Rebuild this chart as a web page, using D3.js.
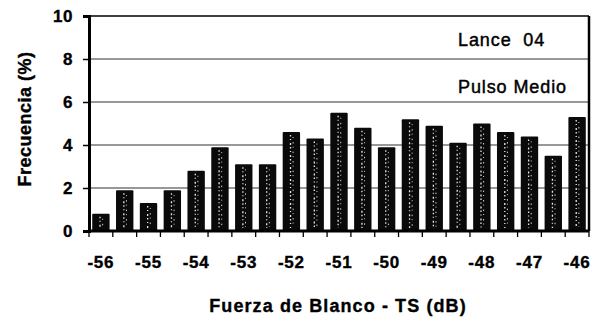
<!DOCTYPE html>
<html>
<head>
<meta charset="utf-8">
<script src="https://cdn.jsdelivr.net/npm/d3@7"></script>
<style>
  html, body { margin: 0; padding: 0; background: #fff; }
  svg { display: block; font-family: "Liberation Sans", Arial, sans-serif; }
</style>
</head>
<body>
<svg id="chart" width="597" height="322"></svg>
<script>
// Target strength classes (dB), half-dB steps
const tsClasses = [-56, -55.5, -55, -54.5, -54, -53.5, -53, -52.5, -52, -51.5, -51,
                   -50.5, -50, -49.5, -49, -48.5, -48, -47.5, -47, -46.5, -46];
// Frequency (%) per class
const frequency = [0.8, 1.9, 1.3, 1.9, 2.8, 3.9, 3.1, 3.1, 4.6, 4.3, 5.5,
                   4.8, 3.9, 5.2, 4.9, 4.1, 5.0, 4.6, 4.4, 3.5, 5.3];
const yTicks = [0, 2, 4, 6, 8, 10];
const xTickLabels = [-56, -55, -54, -53, -52, -51, -50, -49, -48, -47, -46];
const annotations = ["Lance  04", "Pulso Medio"];

const svg = d3.select("#chart");
const m = { left: 89, right: 589, top: 16, bottom: 231 };

const x = d3.scaleBand().domain(tsClasses).range([m.left, m.right]).paddingInner(0.27).paddingOuter(0.135);
const y = d3.scaleLinear().domain([0, 10]).range([m.bottom, m.top]);

// horizontal gridlines
svg.append("g").selectAll("line")
  .data(yTicks.filter(d => d > 0 && d < 10))
  .join("line")
  .attr("x1", m.left).attr("x2", m.right)
  .attr("y1", d => y(d)).attr("y2", d => y(d))
  .attr("stroke", "#333").attr("stroke-width", 1.2);

// bars
const bars = svg.append("g").selectAll("g")
  .data(tsClasses.map((c, i) => ({ c, v: frequency[i] })))
  .join("g");

bars.append("rect")
  .attr("x", d => x(d.c))
  .attr("y", d => y(d.v))
  .attr("width", x.bandwidth())
  .attr("height", d => y(0) - y(d.v))
  .attr("rx", 1)
  .attr("fill", "#0a0a0a");

// speckled light streaks inside each bar
bars.append("line")
  .attr("x1", d => x(d.c) + x.bandwidth() * 0.45)
  .attr("x2", d => x(d.c) + x.bandwidth() * 0.45)
  .attr("y1", d => y(d.v) + 3)
  .attr("y2", y(0) - 3)
  .attr("stroke", "#e8e8e8")
  .attr("stroke-width", 1.3)
  .attr("stroke-dasharray", "1.5,2.5,1,3,2,2");
bars.append("line")
  .attr("x1", d => x(d.c) + x.bandwidth() * 0.6)
  .attr("x2", d => x(d.c) + x.bandwidth() * 0.6)
  .attr("y1", d => y(d.v) + 5)
  .attr("y2", y(0) - 4)
  .attr("stroke", "#cfcfcf")
  .attr("stroke-width", 1)
  .attr("stroke-dasharray", "1,4,1.5,3");

// frame: top and right borders
svg.append("line").attr("x1", m.left).attr("x2", m.right).attr("y1", m.top).attr("y2", m.top)
  .attr("stroke", "#000").attr("stroke-width", 1.6);
svg.append("line").attr("x1", m.right).attr("x2", m.right).attr("y1", m.top).attr("y2", m.bottom)
  .attr("stroke", "#000").attr("stroke-width", 2.5);

// shared heavy text style
function heavy(sel, size, spacing) {
  return sel.attr("font-size", size).attr("font-weight", "bold")
    .attr("letter-spacing", spacing)
    .attr("fill", "#000").attr("stroke", "#000").attr("stroke-width", 0.35)
    .attr("font-family", "Liberation Sans, Arial, sans-serif");
}

// y axis
const yAxis = svg.append("g")
  .attr("transform", `translate(${m.left},0)`)
  .call(d3.axisLeft(y).tickValues(yTicks).tickSize(6).tickPadding(10));
yAxis.select(".domain").attr("stroke-width", 3);
yAxis.selectAll(".tick line").attr("stroke-width", 1.5);
heavy(yAxis.selectAll(".tick text"), 17, 0.5);

// x axis: ticks on class boundaries, labels on whole dB
const xAxis = svg.append("g").attr("transform", `translate(0,${m.bottom})`);
const step = x.step();
const boundaries = d3.range(tsClasses.length + 1).map(i => m.left + x.paddingOuter() * step - x.paddingInner() * step / 2 + i * step);
xAxis.append("line").attr("x1", m.left).attr("x2", m.right).attr("y1", 0).attr("y2", 0)
  .attr("stroke", "#000").attr("stroke-width", 3);
xAxis.selectAll("line.tk").data(boundaries).join("line").attr("class", "tk")
  .attr("x1", d => d).attr("x2", d => d).attr("y1", 0).attr("y2", 6)
  .attr("stroke", "#000").attr("stroke-width", 1.3);
heavy(xAxis.selectAll("text").data(xTickLabels).join("text")
  .attr("x", d => x(d) + x.bandwidth() / 2)
  .attr("y", 37)
  .attr("text-anchor", "middle")
  .text(d => d), 17, 0.8);

// axis titles
heavy(svg.append("text")
  .attr("x", 338).attr("y", 312)
  .attr("text-anchor", "middle")
  .text("Fuerza de Blanco - TS (dB)"), 18, 1.1);
heavy(svg.append("text")
  .attr("transform", "translate(31,119) rotate(-90)")
  .attr("text-anchor", "middle")
  .text("Frecuencia (%)"), 18, 0.5);

// annotations inside the plot
svg.selectAll("text.note").data(annotations).join("text").attr("class", "note")
  .attr("x", 458)
  .attr("y", (d, i) => i === 0 ? 46 : 93)
  .attr("font-size", 18)
  .attr("letter-spacing", 0.9)
  .attr("fill", "#000").attr("stroke", "#000").attr("stroke-width", 0.45)
  .attr("xml:space", "preserve").style("white-space", "pre")
  .text(d => d);
</script>
</body>
</html>
